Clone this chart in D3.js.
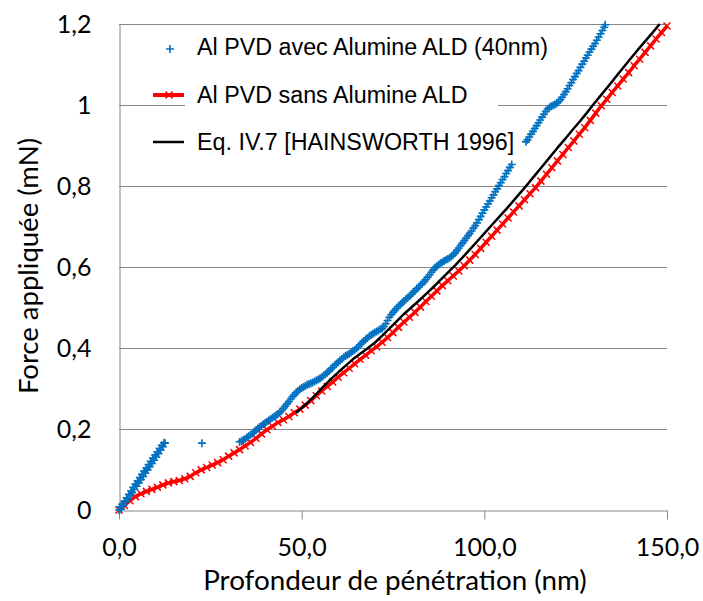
<!DOCTYPE html>
<html><head><meta charset="utf-8">
<script src="https://cdn.jsdelivr.net/npm/d3@7"></script>
<style>body{margin:0;background:#fff} svg{display:block}</style>
</head><body><svg id="c" width="703" height="601"></svg>
<script>
const seriesNames = ["Al PVD avec Alumine ALD (40nm)", "Al PVD sans Alumine ALD", "Eq. IV.7 [HAINSWORTH 1996]"];
const xTicks = [0, 50, 100, 150];
const xTickLabels = ["0,0", "50,0", "100,0", "150,0"];
const yTicks = [0, 0.2, 0.4, 0.6, 0.8, 1.0, 1.2];
const yTickLabels = ["0", "0,2", "0,4", "0,6", "0,8", "1", "1,2"];
const xTitle = "Profondeur de pénétration (nm)";
const yTitle = "Force appliquée (mN)";

// Al PVD avec Alumine ALD (40nm) — markers only
const blueDepth = [0,0.3,0.6,0.9,1.2,1.5,1.8,2.1,2.4,2.7,3.0,3.3,3.6,3.9,4.2,4.5,4.8,5.1,5.4,5.7,6.0,6.3,6.6,6.9,7.2,7.5,7.8,8.1,8.4,8.7,9.0,9.3,9.6,9.9,10.2,10.5,10.8,11.1,11.4,11.7,12.0,12.3,12.6,
  22.7,
  33,33.5,34,34.5,35,35.5,36,36.5,37,37.5,38,38.5,39,39.5,40,40.5,41,41.5,42,42.5,43,43.5,44,44.5,45,45.5,46,46.5,47,47.5,48,48.5,49,49.5,
  50,50.5,51,51.5,52,52.5,53,53.5,54,54.5,55,55.5,56,56.5,57,57.5,58,58.5,59,59.5,60,60.5,61,61.5,62,62.5,63,63.5,64,64.5,65,65.5,66,66.5,67,67.5,68,68.5,69,69.5,
  70,70.5,71,71.5,72,72.5,73,73.5,74,74.5,75,75.5,76,76.5,77,77.5,78,78.5,79,79.5,80,80.5,81,81.5,82,82.5,83,83.5,84,84.5,85,85.5,86,86.5,87,87.5,88,88.5,89,89.5,
  90,90.5,91,91.5,92,92.5,93,93.5,94,94.5,95,95.5,96,96.5,97,97.5,98,98.5,99,99.5,100,100.5,101,101.5,102,102.5,103,103.5,104,104.5,105,105.5,106,106.5,107,107.5,
  111.4,111.8,112.3,112.8,113.3,113.8,114.3,114.8,115.3,115.8,116.3,116.8,117.3,117.8,118.3,118.8,119.3,119.8,120.3,120.8,121.3,121.8,122.3,122.8,123.3,123.8,124.3,124.8,125.3,125.8,126.3,126.8,127.3,127.8,128.3,128.8,129.3,129.8,130.3,130.8,131.3,131.8,132.3,132.8,133.1];
const blueForce = [0,0.008,0.002,0.014,0.010,0.022,0.019,0.030,0.027,0.039,0.035,0.047,0.043,0.056,0.051,0.064,0.059,0.072,0.067,0.080,0.075,0.088,0.083,0.096,0.091,0.104,0.099,0.112,0.107,0.120,0.115,0.128,0.123,0.136,0.131,0.144,0.139,0.152,0.148,0.160,0.156,0.166,0.165,
  0.165,
  0.168,0.170,0.173,0.175,0.179,0.182,0.186,0.189,0.193,0.197,0.201,0.205,0.208,0.212,0.215,0.218,0.221,0.225,0.228,0.231,0.234,0.237,0.241,0.245,0.251,0.256,0.262,0.268,0.274,0.280,0.285,0.290,0.294,0.298,
  0.301,0.304,0.306,0.309,0.311,0.313,0.315,0.317,0.320,0.322,0.325,0.328,0.332,0.335,0.339,0.343,0.348,0.352,0.357,0.361,0.365,0.369,0.373,0.377,0.380,0.383,0.386,0.389,0.392,0.395,0.399,0.403,0.408,0.413,0.417,0.421,0.425,0.429,0.432,0.435,
  0.438,0.441,0.443,0.446,0.448,0.453,0.460,0.468,0.476,0.482,0.488,0.493,0.498,0.503,0.507,0.512,0.516,0.520,0.524,0.528,0.532,0.537,0.541,0.546,0.550,0.555,0.559,0.564,0.569,0.575,0.581,0.587,0.593,0.598,0.602,0.606,0.609,0.612,0.615,0.618,
  0.620,0.623,0.626,0.630,0.635,0.641,0.647,0.653,0.659,0.665,0.671,0.677,0.683,0.689,0.696,0.702,0.709,0.717,0.725,0.733,0.741,0.748,0.756,0.763,0.771,0.778,0.786,0.793,0.801,0.808,0.816,0.823,0.831,0.838,0.846,0.853,
  0.909,0.914,0.921,0.928,0.935,0.942,0.949,0.956,0.963,0.970,0.977,0.984,0.990,0.994,0.997,0.999,1.001,1.004,1.008,1.013,1.019,1.026,1.033,1.040,1.048,1.055,1.063,1.070,1.078,1.085,1.093,1.101,1.108,1.116,1.123,1.131,1.138,1.145,1.152,1.160,1.168,1.176,1.184,1.192,1.198];

// Al PVD sans Alumine ALD — line with x markers
const redDepth = [0,1.5,3,4.5,6,7.5,9,10.5,12,13.5,15,16.5,18,19.5,21,22.5,24,25.5,27,28.5,30,31.5,33,34.5,36,37.5,39,40.5,42,43.5,45,46.5,48,49.5,
  51,52.5,54,55.5,57,58.5,60,61.5,63,64.5,66,67.5,69,70.5,72,73.5,75,76.5,78,79.5,81,82.5,84,85.5,87,88.5,90,91.5,93,94.5,96,97.5,99,
  100.5,102,103.5,105,106.5,108,109.5,111,112.5,114,115.5,117,118.5,120,121.5,123,124.5,126,127.5,129,130.5,132,133.5,135,136.5,138,139.5,141,142.5,144,145.5,147,148.5,150];
const redForce = [0,0.011,0.023,0.033,0.04,0.046,0.051,0.056,0.062,0.067,0.07,0.073,0.077,0.083,0.092,0.099,0.105,0.111,0.117,0.124,0.133,0.141,0.149,0.158,0.167,0.177,0.188,0.198,0.207,0.216,0.223,0.231,0.24,0.249,
  0.259,0.27,0.282,0.294,0.305,0.316,0.328,0.339,0.35,0.361,0.372,0.382,0.393,0.403,0.414,0.426,0.438,0.451,0.464,0.476,0.488,0.501,0.515,0.528,0.541,0.554,0.566,0.578,0.59,0.603,0.617,0.631,0.646,
  0.661,0.676,0.691,0.706,0.721,0.736,0.751,0.766,0.781,0.796,0.812,0.829,0.845,0.862,0.878,0.895,0.911,0.928,0.944,0.962,0.98,0.998,1.014,1.031,1.047,1.064,1.08,1.097,1.113,1.13,1.146,1.163,1.179,1.195];

// Eq. IV.7 [HAINSWORTH 1996] — line
const eqDepth = [48.5,50,52,54,56,58,60,62,64,66,68,70,72,74,76,78,80,82,84,86,88,90,92,94,96,98,100,102,104,106,108,110,112,114,116,118,120,122,124,126,128,130,132,134,136,138,140,142,144,146,148];
const eqForce = [0.24,0.252,0.268,0.286,0.305,0.323,0.34,0.356,0.372,0.386,0.399,0.413,0.43,0.448,0.466,0.484,0.5,0.516,0.533,0.55,0.568,0.586,0.604,0.623,0.643,0.663,0.683,0.703,0.723,0.743,0.764,0.785,0.806,0.828,0.85,0.872,0.894,0.915,0.937,0.958,0.98,1.003,1.025,1.047,1.07,1.092,1.114,1.136,1.157,1.178,1.2];

const axisFont = "Lato, 'Open Sans', sans-serif";
const legendFont = "'Liberation Sans', Arial, sans-serif";
const gridColor = "#868686";

const svg = d3.select("#c");
const x = d3.scaleLinear().domain([0, 150]).range([119, 667]);
const y = d3.scaleLinear().domain([0, 1.2]).range([510, 24]);

// gridlines
svg.append("g").selectAll("line").data(yTicks.filter(d => d > 0)).join("line")
  .attr("x1", x(0)).attr("x2", x(150))
  .attr("y1", d => Math.round(y(d)) + 0.5).attr("y2", d => Math.round(y(d)) + 0.5)
  .attr("stroke", gridColor).attr("stroke-width", 1);

// y axis
const yAxis = d3.axisLeft(y).tickValues(yTicks).tickSize(0).tickPadding(28)
  .tickFormat((d, i) => yTickLabels[i]);
const gy = svg.append("g").attr("transform", `translate(${x(0) + 0.5},0)`).call(yAxis);
gy.select(".domain").attr("stroke", gridColor);
gy.selectAll("text").attr("font-family", axisFont).attr("font-size", 25).attr("fill", "#000");

// x axis
const xAxis = d3.axisBottom(x).tickValues(xTicks).tickSize(9).tickSizeOuter(0)
  .tickFormat((d, i) => xTickLabels[i]);
const gx = svg.append("g").attr("transform", `translate(0,${y(0) + 0.5})`).call(xAxis);
gx.select(".domain").attr("stroke", gridColor);
gx.selectAll(".tick line").attr("stroke", gridColor);
gx.selectAll("text").attr("font-family", axisFont).attr("font-size", 25).attr("fill", "#000")
  .attr("y", 45).attr("dy", 0);

// titles
svg.append("text").attr("x", 395).attr("y", 590).attr("text-anchor", "middle")
  .attr("font-family", axisFont).attr("font-size", 27.8).attr("fill", "#000").text(xTitle);
svg.append("text").attr("transform", `translate(38,266) rotate(-90)`).attr("text-anchor", "middle")
  .attr("font-family", axisFont).attr("font-size", 27.5).attr("fill", "#000").text(yTitle);

const redPts = redDepth.map((d, i) => [d, redForce[i]]);
const bluePts = blueDepth.map((d, i) => [d, blueForce[i]]);
const eqPts = eqDepth.map((d, i) => [d, eqForce[i]]);

const line = d3.line().x(d => x(d[0])).y(d => y(d[1]));
const plusPath = "M-4,0H4M0,-4V4";
const crossPath = "M-3.5,-3.5L3.5,3.5M-3.5,3.5L3.5,-3.5";
const blue = "#0070C0", red = "#FF0000";

// red series
svg.append("path").datum(redPts).attr("d", line).attr("fill", "none")
  .attr("stroke", red).attr("stroke-width", 3.5).attr("stroke-linejoin", "round");
svg.append("g").selectAll("path").data(redPts).join("path")
  .attr("transform", d => `translate(${x(d[0])},${y(d[1])})`)
  .attr("d", crossPath).attr("stroke", red).attr("stroke-width", 1.5).attr("fill", "none");

// blue series
svg.append("g").selectAll("path").data(bluePts).join("path")
  .attr("transform", d => `translate(${x(d[0])},${y(d[1])})`)
  .attr("d", plusPath).attr("stroke", blue).attr("stroke-width", 1.6).attr("fill", "none");

// equation line
svg.append("path").datum(eqPts).attr("d", line).attr("fill", "none")
  .attr("stroke", "#000").attr("stroke-width", 2.5).attr("stroke-linejoin", "round");

// legend
svg.append("rect").attr("x", 185).attr("y", 30).attr("width", 313).attr("height", 130).attr("fill", "#fff");
const lg = svg.append("g");
const rowY = [49, 95, 142];
const baseY = [55, 103, 150];
lg.append("path").attr("transform", `translate(170,${rowY[0]})`).attr("d", plusPath)
  .attr("stroke", blue).attr("stroke-width", 1.6).attr("fill", "none");
lg.append("line").attr("x1", 153).attr("x2", 184).attr("y1", rowY[1]).attr("y2", rowY[1])
  .attr("stroke", red).attr("stroke-width", 4);
lg.append("path").attr("transform", `translate(169,${rowY[1]})`).attr("d", crossPath)
  .attr("stroke", red).attr("stroke-width", 1.5).attr("fill", "none");
lg.append("line").attr("x1", 153).attr("x2", 184).attr("y1", rowY[2]).attr("y2", rowY[2])
  .attr("stroke", "#000").attr("stroke-width", 2.5);
lg.selectAll("text").data(seriesNames).join("text")
  .attr("x", 197).attr("y", (d, i) => baseY[i])
  .attr("font-family", legendFont).attr("font-size", 23.3).attr("fill", "#000")
  .text(d => d);
</script>
</body></html>
